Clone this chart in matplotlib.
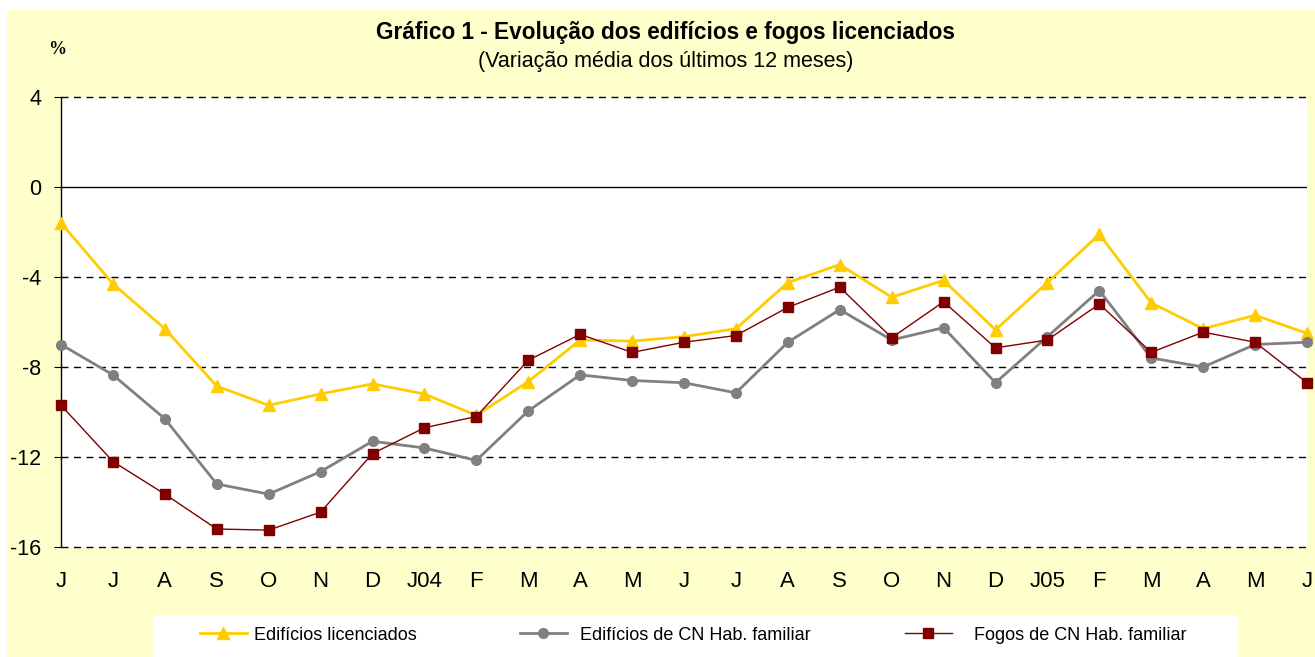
import matplotlib
matplotlib.use("Agg")
import matplotlib.pyplot as plt
from matplotlib.patches import Rectangle
from matplotlib.lines import Line2D

months = ["J", "J", "A", "S", "O", "N", "D", "J04", "F", "M", "A", "M",
          "J", "J", "A", "S", "O", "N", "D", "J05", "F", "M", "A", "M", "J"]

edificios_lic = [-1.6, -4.3, -6.3, -8.85, -9.7, -9.2, -8.75, -9.2, -10.15, -8.65, -6.8, -6.85,
                 -6.65, -6.3, -4.25, -3.45, -4.9, -4.15, -6.35, -4.25, -2.1, -5.15, -6.3, -5.7, -6.5]
edificios_cn = [-7.0, -8.35, -10.3, -13.2, -13.65, -12.65, -11.3, -11.6, -12.15, -9.95, -8.35, -8.6,
                -8.7, -9.15, -6.9, -5.45, -6.8, -6.25, -8.7, -6.65, -4.6, -7.6, -8.0, -7.0, -6.9]
fogos_cn = [-9.7, -12.2, -13.65, -15.2, -15.25, -14.45, -11.85, -10.7, -10.2, -7.7, -6.55, -7.35,
            -6.9, -6.6, -5.35, -4.45, -6.7, -5.1, -7.15, -6.8, -5.2, -7.35, -6.45, -6.9, -8.7]

series_names = ["Edifícios licenciados", "Edifícios de CN Hab. familiar", "Fogos de CN Hab. familiar"]
yticks = [4, 0, -4, -8, -12, -16]

W, H = 1315, 657
fig = plt.figure(figsize=(W / 100, H / 100), dpi=100)
fig.patch.set_facecolor("white")
fig.patches.append(Rectangle((7 / W, 0), 1 - 7 / W, 1 - 10 / H, transform=fig.transFigure,
                             facecolor="#FFFFCC", edgecolor="none", zorder=-10))
fig.patches.append(Rectangle((153 / W, 0), (1238 - 153) / W, 42 / H, transform=fig.transFigure,
                             facecolor="white", edgecolor="none", zorder=-5))

ax = fig.add_axes([61 / W, 1 - 547 / H, (1307 - 61) / W, (547 - 97) / H], zorder=1)
ax.set_facecolor("white")
x = list(range(len(months)))

styles = [
    dict(color="#FFCC00", lw=2, marker="^", ms=9, mec="#FFCC00"),
    dict(color="#808080", lw=2, marker="o", ms=7, mec="#808080"),
    dict(color="#800000", lw=1, marker="s", ms=7, mec="#800000"),
]
for i, (vals, st) in enumerate(zip([edificios_lic, edificios_cn, fogos_cn], styles)):
    ax.plot(x, vals, zorder=3 + i, label=series_names[i], clip_on=False, **st)

ax.set_xlim(0, len(months) - 1)
ax.set_ylim(-16, 4)
for v in yticks:
    if v == 0:
        ax.axhline(v, color="black", lw=1, zorder=1)
    else:
        ax.axhline(v, color="black", lw=1, ls=(0, (5, 4)), zorder=1, clip_on=False)

ax.set_yticks(yticks)
ax.set_yticklabels([str(v) for v in yticks], fontsize=15.5, family="Liberation Sans")
ax.set_xticks(x)
ax.set_xticklabels(months, fontsize=16, family="Liberation Sans")
ax.tick_params(axis="x", length=0, pad=17)
ax.tick_params(axis="y", length=5, direction="out", pad=9)
for s in ["top", "right", "bottom"]:
    ax.spines[s].set_visible(False)
ax.spines["left"].set_color("black")
ax.spines["left"].set_linewidth(1)

fig.text(665 / W, 1 - 33 / H, "Gráfico 1 - Evolução dos edifícios e fogos licenciados",
         ha="center", va="center", fontsize=16.3, fontweight="bold", family="Liberation Sans")
fig.text(666 / W, 1 - 62 / H, "(Variação média dos últimos 12 meses)",
         ha="center", va="center", fontsize=15.5, family="Liberation Sans")
fig.text(57 / W, 1 - 50 / H, "%", ha="center", va="center", fontsize=13, fontweight="bold",
         family="Liberation Serif")

leg_x = [200, 520, 905]
leg_gap = [0.4, 0.7, 1.2]
for i, st in enumerate(styles):
    h = Line2D([], [], **st)
    fig.legend([h], [series_names[i]], loc="center left",
               bbox_to_anchor=(leg_x[i] / W, 1 - 635 / H), frameon=False,
               prop={"family": "Liberation Sans", "size": 13}, handlelength=2.6,
               handletextpad=leg_gap[i], borderpad=0, borderaxespad=0)

fig.savefig("out.png", dpi=100, facecolor=fig.get_facecolor())
